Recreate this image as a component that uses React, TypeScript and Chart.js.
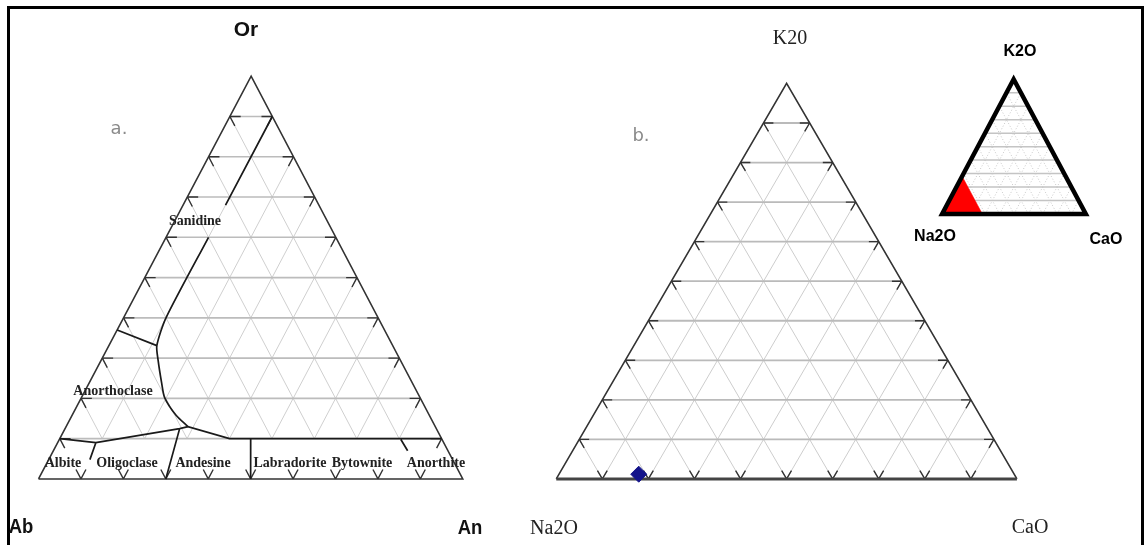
import React, { useEffect, useRef } from "react";
import { Chart, registerables } from "chart.js";
Chart.register(...registerables);

// ---------- data ----------
// grid levels, percent
const GRID_LEVELS = [10, 20, 30, 40, 50, 60, 70, 80, 90];

// Panel a (feldspar): compositions as [Ab, An, Or] in %
const A_SANIDINE_UPPER = [[0, 10, 90], [22, 10, 68]];
const A_SANIDINE_LOWER = [[30, 10, 60], [50, 10, 40], [55.6, 11.3, 33.1], [57.1, 13.4, 29.5], [59.1, 17.1, 23.8], [60.2, 19.6, 20.2], [59.7, 24.5, 15.8], [58.3, 28.7, 13]];
const A_ANORTHOCLASE_TOP = [[63, 0, 37], [55.6, 11.3, 33.1]];
const A_PLAGIOCLASE_TOP = [[90, 0, 10], [82, 9, 9], [60.5, 27, 12.5], [58.3, 28.7, 13], [50, 40, 10], [0, 90, 10]];
const A_ALB_OLIG = [[82, 9, 9], [85.5, 9.7, 4.8]];
const A_OLIG_AND = [[60.5, 27, 12.5], [70, 30, 0]];
const A_AND_LAB = [[45, 45, 10], [50, 50, 0]];
const A_BYT_ANO = [[9.7, 80.5, 9.8], [9.5, 83.5, 7]];
const A_CORNERS = ["Ab", "An", "Or"];
const A_FIELDS = ["Sanidine", "Anorthoclase"];
const A_ROW = ["Albite", "Oligoclase", "Andesine", "Labradorite", "Bytownite", "Anorthite"];

// Panel b: sample composition [Na2O, CaO, K2O] in %
const B_SAMPLE_NA2O = [81.5];
const B_SAMPLE_CAO = [17.3];
const B_SAMPLE_K2O = [1.2];
const B_CORNERS = ["Na2O", "CaO", "K20"];

// Inset: highlighted field [Na2O, CaO, K2O] in %
const INSET_FIELD = [[100, 0, 0], [72, 0, 28], [72, 28, 0]];
const INSET_CORNERS = ["Na2O", "CaO", "K2O"];

// ---------- layout ----------
type Pt = { x: number; y: number };
type Tri = { A: Pt; B: Pt; C: Pt };
const TRI_A: Tri = { A: { x: 30, y: 486 }, B: { x: 461, y: 486 }, C: { x: 246, y: 69.5 } };
const TRI_B: Tri = { A: { x: 556, y: 486 }, B: { x: 1024, y: 486 }, C: { x: 790, y: 77 } };
const TRI_I: Tri = { A: { x: 948, y: 212 }, B: { x: 1094, y: 212 }, C: { x: 1020.7, y: 72.7 } };

const GAP: Pt = { x: NaN, y: NaN };

function tern(t: Tri, c: number[]): Pt {
  const s = c[0] + c[1] + c[2];
  return {
    x: (c[0] * t.A.x + c[1] * t.B.x + c[2] * t.C.x) / s,
    y: (c[0] * t.A.y + c[1] * t.B.y + c[2] * t.C.y) / s,
  };
}
function poly(t: Tri, comps: number[][]): Pt[] {
  return comps.map((c) => tern(t, c));
}
function gridSegs(t: Tri, fam: string): Pt[][] {
  return GRID_LEVELS.map((f) => {
    if (fam === "h") return [tern(t, [100 - f, 0, f]), tern(t, [0, 100 - f, f])];
    if (fam === "b") return [tern(t, [100 - f, f, 0]), tern(t, [0, f, 100 - f])];
    return [tern(t, [f, 100 - f, 0]), tern(t, [f, 0, 100 - f])];
  });
}
function join(segs: Pt[][]): Pt[] {
  const out: Pt[] = [];
  segs.forEach((s, i) => {
    if (i) out.push(GAP);
    s.forEach((p) => out.push(p));
  });
  return out;
}
function ticks(segs: Pt[][], L: number): Pt[][] {
  const out: Pt[][] = [];
  segs.forEach(([p, q]) => {
    const dx = q.x - p.x, dy = q.y - p.y;
    const d = Math.hypot(dx, dy);
    const ux = dx / d, uy = dy / d;
    out.push([p, { x: p.x + ux * L, y: p.y + uy * L }]);
    out.push([q, { x: q.x - ux * L, y: q.y - uy * L }]);
  });
  return out;
}
function edges(t: Tri): Pt[] {
  return [t.A, t.B, t.C, t.A];
}

function lineDs(data: Pt[], color: string, width: number, order: number, extra: any = {}) {
  return {
    type: "line",
    data,
    borderColor: color,
    borderWidth: width,
    pointRadius: 0,
    fill: false,
    tension: 0,
    spanGaps: false,
    order,
    ...extra,
  };
}

export default function App() {
  const ref = useRef<HTMLCanvasElement>(null);
  useEffect(() => {
    if (!ref.current) return;
    const datasets: any[] = [];
    // ---- panel a ----
    const aH = gridSegs(TRI_A, "h"), aB = gridSegs(TRI_A, "b"), aA = gridSegs(TRI_A, "a");
    datasets.push(lineDs(join([...aB, ...aA]), "#cfcfcf", 1, 30));
    datasets.push(lineDs(poly(TRI_A, [[100, 0, 0], [0, 100, 0], [0, 90, 10], [90, 0, 10]]), "rgba(0,0,0,0)", 0, 29, { fill: "shape", backgroundColor: "#ffffff" }));
    datasets.push(lineDs(join(aH), "#bcbcbc", 1.6, 28));
    datasets.push(lineDs(join(ticks([...aH, ...aB, ...aA], 11)), "#333333", 1.4, 27));
    datasets.push(lineDs(edges(TRI_A), "#333333", 1.6, 26));
    datasets.push(lineDs(join([poly(TRI_A, A_SANIDINE_UPPER), poly(TRI_A, A_ANORTHOCLASE_TOP), poly(TRI_A, A_PLAGIOCLASE_TOP), poly(TRI_A, A_ALB_OLIG), poly(TRI_A, A_OLIG_AND), poly(TRI_A, A_AND_LAB), poly(TRI_A, A_BYT_ANO)]), "#1a1a1a", 1.7, 25));
    datasets.push(lineDs(poly(TRI_A, A_SANIDINE_LOWER), "#1a1a1a", 1.7, 25, { tension: 0.25 }));
    // ---- panel b ----
    const bH = gridSegs(TRI_B, "h"), bB = gridSegs(TRI_B, "b"), bA = gridSegs(TRI_B, "a");
    datasets.push(lineDs(join([...bB, ...bA]), "#cdcdcd", 1, 20));
    datasets.push(lineDs(join(bH), "#bababa", 1.8, 19));
    datasets.push(lineDs(join(ticks([...bH, ...bB, ...bA], 10)), "#333333", 1.4, 18));
    datasets.push(lineDs([TRI_B.B, TRI_B.C, TRI_B.A], "#333333", 1.6, 17));
    datasets.push(lineDs([TRI_B.A, TRI_B.B], "#444444", 3, 16));
    const sample = B_SAMPLE_NA2O.map((na, i) => tern(TRI_B, [na, B_SAMPLE_CAO[i], B_SAMPLE_K2O[i]]));
    datasets.push({
      type: "line", data: sample, showLine: false, pointStyle: "rectRot", pointRadius: 8,
      pointBackgroundColor: "#14148a", pointBorderColor: "#14148a", pointBorderWidth: 1, order: 1,
    });
    // ---- inset ----
    const iH = gridSegs(TRI_I, "h"), iB = gridSegs(TRI_I, "b"), iA = gridSegs(TRI_I, "a");
    datasets.push(lineDs(join([...iB, ...iA]), "#c8c8c8", 1, 12, { borderDash: [1, 2] }));
    datasets.push(lineDs(join(iH), "#c4c4c4", 1.5, 11));
    datasets.push(lineDs([...poly(TRI_I, INSET_FIELD), tern(TRI_I, INSET_FIELD[0])], "#ff0000", 0.5, 10, { fill: "shape", backgroundColor: "#ff0000" }));
    datasets.push(lineDs([...edges(TRI_I), TRI_I.B], "#000000", 4.5, 9, { borderJoinStyle: "miter" }));

    const decor = {
      id: "decor",
      afterDatasetsDraw(chart: any) {
        const ctx = chart.ctx as CanvasRenderingContext2D;
        ctx.save();
        // frame
        ctx.fillStyle = "#000";
        ctx.fillRect(7, 6, 1137, 3);
        ctx.fillRect(7, 6, 3, 539);
        ctx.fillRect(1141, 6, 3, 539);
        const txt = (s: string, x: number, y: number, font: string, color: string, sx = 1) => {
          ctx.save();
          ctx.font = font;
          ctx.fillStyle = color;
          ctx.textAlign = "center";
          ctx.textBaseline = "middle";
          ctx.translate(x, y);
          ctx.scale(sx, 1);
          ctx.fillText(s, 0, 0);
          ctx.restore();
        };
        const bold = 'bold 21px "Liberation Sans", Arial, sans-serif';
        txt(A_CORNERS[2], 246, 30, bold, "#111");
        txt(A_CORNERS[0], 21, 527, bold, "#111", 0.88);
        txt(A_CORNERS[1], 470, 528, bold, "#111", 0.88);
        txt("a.", 119, 129, '18px "DejaVu Sans", sans-serif', "#8a8a8a");
        const fld = 'bold 14px "Liberation Serif", serif';
        txt(A_FIELDS[0], 195, 221, fld, "#222");
        txt(A_FIELDS[1], 113, 391, fld, "#222");
        const rowX = [63, 127, 203, 290, 362, 436];
        A_ROW.forEach((s, i) => txt(s, rowX[i], 463, fld, "#222"));
        // panel b
        const serif = '20px "Liberation Serif", serif';
        txt(B_CORNERS[2], 790, 39, serif, "#222");
        txt(B_CORNERS[0], 554, 529, serif, "#222");
        txt(B_CORNERS[1], 1030, 528, serif, "#222");
        txt("b.", 641, 136, '18px "DejaVu Sans", sans-serif', "#8a8a8a");
        const ib = 'bold 16px "Liberation Sans", Arial, sans-serif';
        txt(INSET_CORNERS[2], 1020, 52, ib, "#000");
        txt(INSET_CORNERS[0], 935, 237, ib, "#000");
        txt(INSET_CORNERS[1], 1106, 240, ib, "#000");
        ctx.restore();
      },
    };

    const chart = new Chart(ref.current, {
      type: "line",
      data: { datasets },
      options: {
        animation: false,
        responsive: false,
        events: [],
        layout: { padding: 0 },
        plugins: { legend: { display: false }, tooltip: { enabled: false } },
        scales: {
          x: { type: "linear", display: false, min: 0, max: 1146 },
          y: { type: "linear", display: false, min: 0, max: 545, reverse: true },
        },
      },
      plugins: [decor],
    } as any);
    return () => chart.destroy();
  }, []);
  return (
    <div style={{ position: "absolute", left: 0, top: 0, width: 1146, height: 545, background: "#fff" }}>
      <canvas ref={ref} width={1146} height={545} style={{ display: "block" }} />
    </div>
  );
}
